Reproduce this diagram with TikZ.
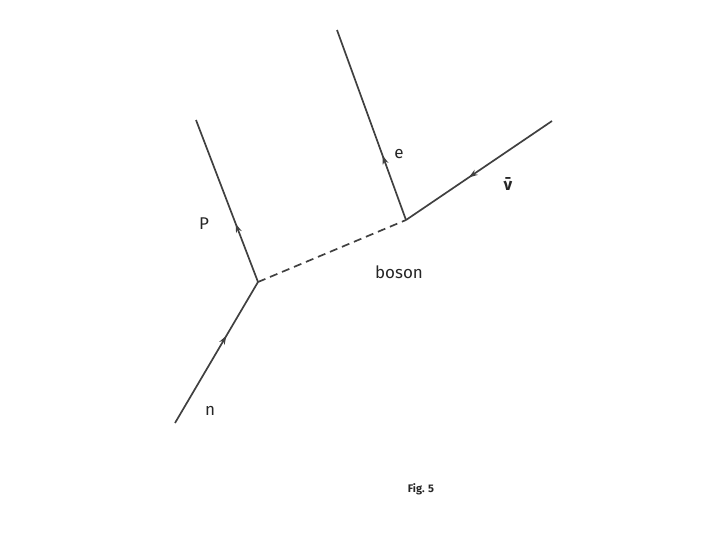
\documentclass[tikz,border=0pt]{standalone}
\usepackage{fontspec}
\setmainfont{Fira Sans}
\usetikzlibrary{arrows.meta,decorations.markings}

\begin{document}
\begin{tikzpicture}[
    x=1pt, y=-1pt,
every label text/.style={font=\fontsize{17}{19}\selectfont, text=black!85},
particle line/.style={draw=black!75, line width=1.7pt},
boson line/.style={particle line, dash pattern=on 8pt off 5pt},
tip at/.style={postaction={decorate, decoration={markings,
    mark=at position #1 with {\arrow{Stealth[length=9pt, width=6pt]}}}}},
]
\useasboundingbox (0,0) rectangle (714,557);
% vertices and free ends
\coordinate (n) at (175,423);
\coordinate (v1) at (258,282);
\coordinate (p) at (196,120);
\coordinate (v2) at (406,220);
\coordinate (e) at (337,30);
\coordinate (nu) at (552,121);
% lines
\draw[particle line, tip at=0.62] (n) -- (v1);
\draw[particle line, tip at=0.36] (v1) -- (p);
\draw[boson line] (v1) -- (v2);
\draw[particle line, tip at=0.34] (v2) -- (e);
\draw[particle line, tip at=0.57] (nu) -- (v2);
% labels
\node[every label text] (nlabel) at (210,411) {n};
\node[every label text] (plabel) at (204,224) {P};
\node[every label text] (elabel) at (399,154) {e};
\node[every label text, font=\bfseries\fontsize{17}{19}\selectfont] (nulabel) at (508,184) {ν̄};
\node[every label text] (bosonlabel) at (399,272) {boson};
\node[font=\bfseries\fontsize{11}{13}\selectfont, text=black!85] (fig) at (421,489) {Fig. 5};
\end{tikzpicture}
\end{document}
